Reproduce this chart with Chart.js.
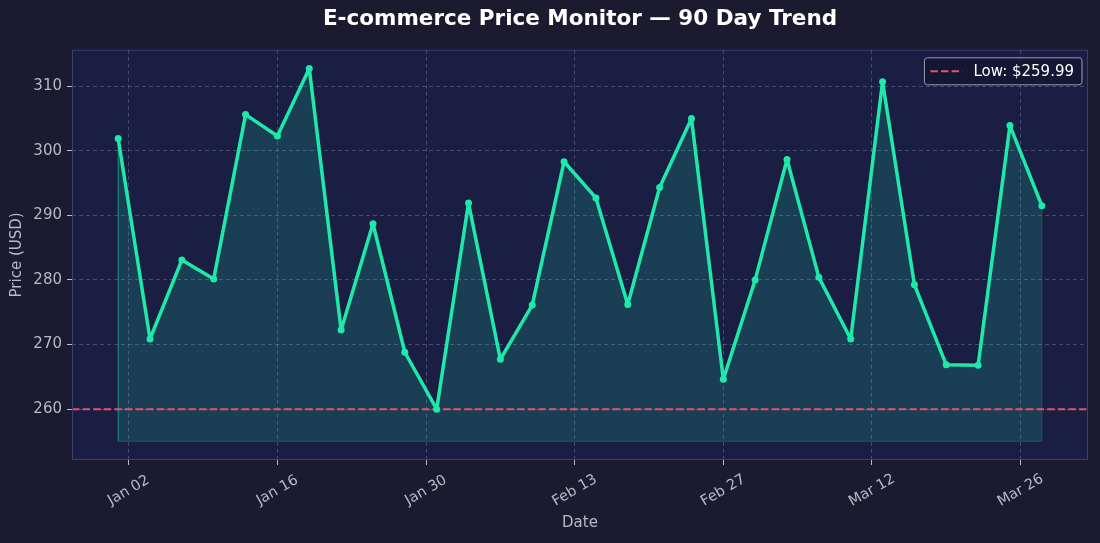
<!DOCTYPE html>
<html>
<head>
<meta charset="utf-8">
<title>E-commerce Price Monitor</title>
<script src="https://cdn.jsdelivr.net/npm/chart.js@4.4.1/dist/chart.umd.min.js"></script>
<style>
  html, body { margin: 0; padding: 0; background: #1c1a2e; }
  #wrap { width: 1100px; height: 543px; }
</style>
</head>
<body>
<div id="wrap"><canvas id="priceChart"></canvas></div>
<script>
// --- Données ---
const dates = [
  '2024-01-01', '2024-01-04', '2024-01-07', '2024-01-10', '2024-01-13',
  '2024-01-16', '2024-01-19', '2024-01-22', '2024-01-25', '2024-01-28',
  '2024-01-31', '2024-02-03', '2024-02-06', '2024-02-09', '2024-02-12',
  '2024-02-15', '2024-02-18', '2024-02-21', '2024-02-24', '2024-02-27',
  '2024-03-01', '2024-03-04', '2024-03-07', '2024-03-10', '2024-03-13',
  '2024-03-16', '2024-03-19', '2024-03-22', '2024-03-25', '2024-03-28'
];
const prices = [
  301.9, 270.85, 283.1, 280.15, 305.6, 302.3, 312.75, 272.25, 288.7, 268.8,
  259.99, 291.9, 267.7, 276.1, 298.3, 292.7, 276.2, 294.3, 305.0, 264.6,
  280.0, 298.65, 280.4, 270.85, 310.7, 279.25, 266.85, 266.8, 303.9, 291.5
];
const tickDates = ['2024-01-02', '2024-01-16', '2024-01-30', '2024-02-13', '2024-02-27', '2024-03-12', '2024-03-26'];
const tickLabels = ['Jan 02', 'Jan 16', 'Jan 30', 'Feb 13', 'Feb 27', 'Mar 12', 'Mar 26'];
const lowPrice = 259.99;
const fillBase = 255;

const LINE = '#1ee8aa';
const LOW = '#e8506e';
const TEXT = '#b8b8c8';
const GRID = 'rgba(150, 160, 210, 0.34)';
const FONT = '"DejaVu Sans", sans-serif';

// jours depuis le premier point
const DAY = 86400000;
const start = Date.parse(dates[0]);
const dayOf = d => (Date.parse(d) - start) / DAY;
const days = dates.map(dayOf);
const tickDays = tickDates.map(dayOf);

// marges de 5% comme matplotlib
const last = days.length - 1;
const xPad = (days[last] - days[0]) * 0.05;
const xMin = days[0] - xPad;
const xMax = days[last] + xPad;
const yLo = Math.min(fillBase, ...prices);
const yHi = Math.max(...prices);
const yPad = (yHi - yLo) * 0.05;

// --- Plugin : fonds, cadre, étiquettes de dates, légende ---
const decor = {
  id: 'decor',
  beforeDraw(chart) {
    const { ctx, chartArea: a } = chart;
    ctx.save();
    ctx.fillStyle = '#1c1a2e';
    ctx.fillRect(0, 0, chart.width, chart.height);
    ctx.fillStyle = '#1a1e42';
    ctx.fillRect(a.left, a.top, a.right - a.left, a.bottom - a.top);
    ctx.restore();
  },
  afterDraw(chart) {
    const { ctx, chartArea: a, scales } = chart;
    ctx.save();
    ctx.strokeStyle = '#3b3e6e';
    ctx.lineWidth = 1;
    ctx.strokeRect(a.left + 0.5, a.top + 0.5, a.right - a.left - 1, a.bottom - a.top - 1);

    // dates inclinées, centrées sur le tick
    const xs = scales.x;
    ctx.fillStyle = TEXT;
    ctx.font = '14.5px ' + FONT;
    ctx.textAlign = 'center';
    ctx.textBaseline = 'middle';
    xs.ticks.forEach(t => {
      ctx.save();
      ctx.translate(xs.getPixelForValue(t.value), a.bottom + 30.5);
      ctx.rotate(-Math.PI / 6);
      ctx.fillText(t.label, 0, 0);
      ctx.restore();
    });

    // légende
    const ds = chart.data.datasets[2];
    ctx.font = '15px ' + FONT;
    const tw = ctx.measureText(ds.label).width;
    const w = tw + 57, h = 27;
    const bx = a.right - 6 - w, by = a.top + 8;
    ctx.beginPath();
    ctx.roundRect(bx, by, w, h, 3);
    ctx.fillStyle = 'rgba(20, 22, 50, 0.9)';
    ctx.fill();
    ctx.strokeStyle = '#9a9cb4';
    ctx.lineWidth = 1;
    ctx.stroke();
    ctx.beginPath();
    ctx.setLineDash(ds.borderDash);
    ctx.strokeStyle = ds.borderColor;
    ctx.lineWidth = ds.borderWidth;
    ctx.moveTo(bx + 6, by + h / 2);
    ctx.lineTo(bx + 38, by + h / 2);
    ctx.stroke();
    ctx.setLineDash([]);
    ctx.fillStyle = '#ffffff';
    ctx.textAlign = 'left';
    ctx.textBaseline = 'middle';
    ctx.fillText(ds.label, bx + 49, by + h / 2 + 1);
    ctx.restore();
  }
};

const ctx = document.getElementById('priceChart');

const priceChart = new Chart(ctx, {
  type: 'line',
  plugins: [decor],
  data: {
    datasets: [
      {
        label: 'Price',
        data: days.map((x, i) => ({ x, y: prices[i] })),
        borderColor: LINE,
        borderWidth: 3.5,
        borderJoinStyle: 'round',
        borderCapStyle: 'round',
        pointRadius: 3.5,
        pointBackgroundColor: LINE,
        pointBorderWidth: 0,
        backgroundColor: 'rgba(29, 233, 182, 0.16)',
        fill: { value: fillBase },
        tension: 0,
        order: 1
      },
      {
        label: 'fill edge',
        data: [
          { x: days[0], y: prices[0] },
          { x: days[0], y: fillBase },
          { x: days[last], y: fillBase },
          { x: days[last], y: prices[last] }
        ],
        borderColor: 'rgba(29, 233, 182, 0.22)',
        borderWidth: 1,
        pointRadius: 0,
        fill: false,
        order: 3
      },
      {
        label: 'Low: $' + lowPrice.toFixed(2),
        data: [{ x: xMin, y: lowPrice }, { x: xMax, y: lowPrice }],
        borderColor: LOW,
        borderWidth: 2,
        borderDash: [7.4, 3.2],
        pointRadius: 0,
        fill: false,
        order: 2
      }
    ]
  },
  options: {
    responsive: true,
    maintainAspectRatio: false,
    animation: false,
    layout: { padding: { left: 0, right: 12, top: 0, bottom: 0 } },
    plugins: {
      legend: { display: false },
      tooltip: { enabled: false },
      filler: { drawTime: 'beforeDatasetsDraw' },
      title: {
        display: true,
        fullSize: false,
        text: 'E-commerce Price Monitor — 90 Day Trend',
        color: '#ffffff',
        font: { family: FONT, size: 21.5, weight: 'bold' },
        padding: { top: 7, bottom: 17 }
      }
    },
    scales: {
      x: {
        type: 'linear',
        min: xMin,
        max: xMax,
        afterBuildTicks: scale => {
          scale.ticks = tickDays.map(v => ({ value: v }));
        },
        afterFit: scale => { scale.height = 83; },
        ticks: {
          display: false,
          callback: (v, i) => tickLabels[i]
        },
        grid: {
          color: GRID,
          borderDash: [4, 3],
          tickColor: TEXT,
          tickBorderDash: [],
          tickLength: 5
        },
        border: { display: false, dash: [4, 3] },
        title: {
          display: true,
          text: 'Date',
          color: TEXT,
          font: { family: FONT, size: 15 },
          padding: { top: 4, bottom: 11 }
        }
      },
      y: {
        type: 'linear',
        min: yLo - yPad,
        max: yHi + yPad,
        afterFit: scale => { scale.width = 72; },
        ticks: {
          stepSize: 10,
          includeBounds: false,
          color: TEXT,
          padding: 5,
          font: { family: FONT, size: 15 }
        },
        grid: {
          color: GRID,
          tickColor: TEXT,
          tickBorderDash: [],
          tickLength: 5
        },
        border: { display: false, dash: [4, 3] },
        title: {
          display: true,
          text: 'Price (USD)',
          color: TEXT,
          font: { family: FONT, size: 15 },
          padding: { top: 8, bottom: 0 }
        }
      }
    }
  }
});
</script>
</body>
</html>
